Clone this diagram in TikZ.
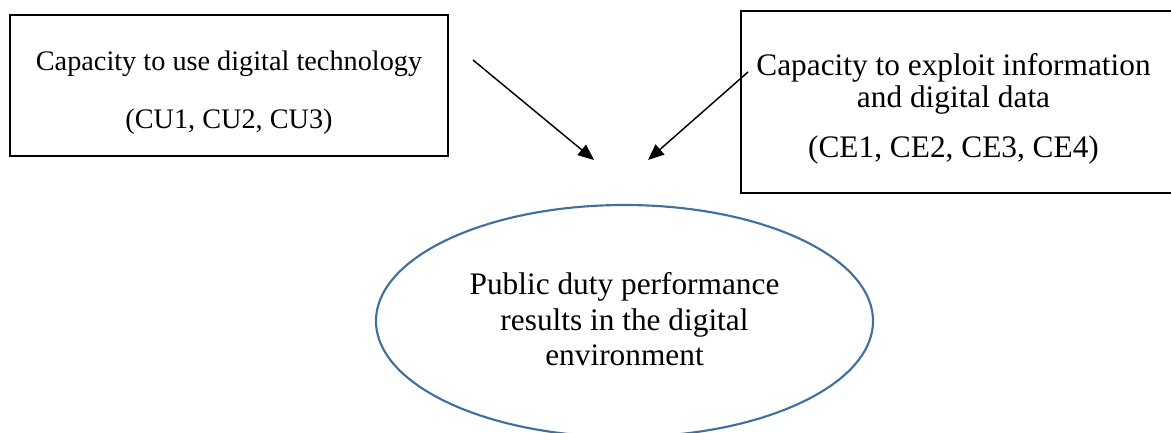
\documentclass[tikz,border=0pt]{standalone}
\usepackage{fontspec}
\setmainfont{Liberation Serif}
\usetikzlibrary{arrows.meta,shapes.geometric}
\definecolor{ovalblue}{RGB}{65,111,158}
\tikzset{
  capbox/.style={draw=black, line width=1.1pt, rectangle, inner sep=0pt},
  txt/.style={anchor=base, inner sep=0pt, font=\fontsize{23.5}{26}\selectfont},
  smalltxt/.style={txt, font=\fontsize{21.2}{24}\selectfont},
  link/.style={line width=1.1pt, -{Triangle[length=12pt,width=10pt]}},
  outcome/.style={draw=ovalblue, line width=1.6pt, ellipse, inner sep=0pt}
}
\begin{document}
\begin{tikzpicture}[x=0.75pt, y=-0.75pt]
  \useasboundingbox (0,0) rectangle (1171,432);

  % left box: capacity to use digital technology
  \node[capbox, minimum width=438*0.75pt, minimum height=141*0.75pt] (use) at (229,85.5) {};
  \node[smalltxt] (use1) at (229,70) {Capacity to use digital technology};
  \node[smalltxt] (use2) at (229,128) {(CU1, CU2, CU3)};

  % right box: capacity to exploit information (runs past the right edge)
  \node[capbox, minimum width=460*0.75pt, minimum height=182*0.75pt] (exploit) at (971,102) {};
  \node[txt] (exp1) at (953.5,75) {Capacity to exploit information};
  \node[txt] (exp2) at (953.5,107) {and digital data};
  \node[txt] (exp3) at (953.5,157) {(CE1, CE2, CE3, CE4)};

  % outcome ellipse
  \node[outcome, minimum width=497*0.75pt, minimum height=232*0.75pt] (result) at (624.5,321) {};
  \node[txt] (res1) at (624.5,294) {Public duty performance};
  \node[txt] (res2) at (624.5,330) {results in the digital};
  \node[txt] (res3) at (624.5,365) {environment};

  % arrows
  \coordinate (a1s) at (473,60);
  \coordinate (a1e) at (594,160);
  \coordinate (a2s) at (748,72);
  \coordinate (a2e) at (648,160);
  \draw[link] (a1s) -- (a1e);
  \draw[link] (a2s) -- (a2e);
\end{tikzpicture}
\end{document}
